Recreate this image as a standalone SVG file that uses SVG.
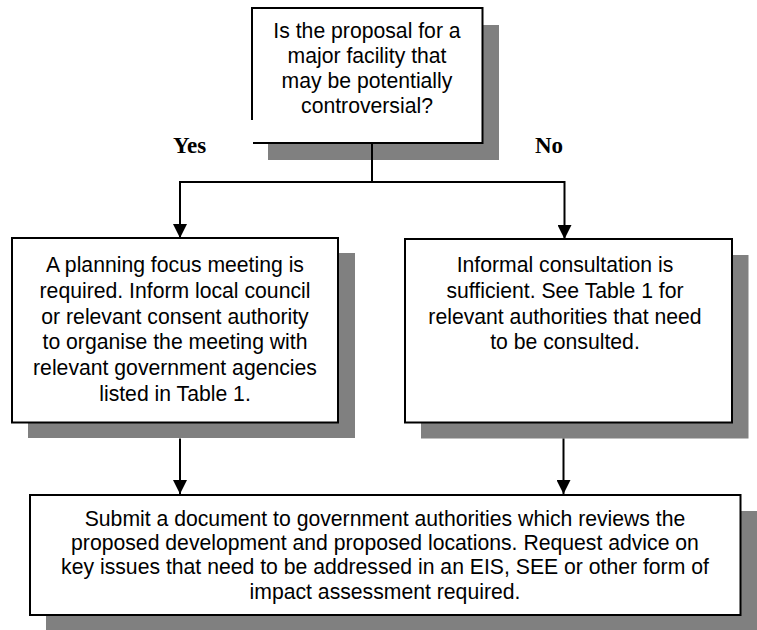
<svg xmlns="http://www.w3.org/2000/svg" width="757" height="630" viewBox="0 0 757 630">
  <style>
    .shadow { fill: #808080; stroke: none; }
    .box { fill: #ffffff; stroke: #000000; stroke-width: 2; }
    .txt { font-family: "Liberation Sans", Arial, sans-serif; font-size: 21.2px; fill: #000000; text-anchor: middle; }
    .lbl { font-family: "Liberation Serif", "Times New Roman", serif; font-size: 23px; font-weight: bold; fill: #000000; }
    .conn { fill: none; stroke: #000000; stroke-width: 2; }
  </style>
  <defs>
    <marker id="arrow" markerUnits="userSpaceOnUse" markerWidth="14" markerHeight="14" refX="14" refY="7" orient="auto">
      <path d="M0,0 L14,7 L0,14 z" fill="#000000"/>
    </marker>
  </defs>
  <rect x="0" y="0" width="757" height="630" fill="#ffffff"/>

  <g id="question">
    <rect class="shadow" x="268" y="25" width="231" height="135"/>
    <rect x="252" y="8" width="230.5" height="135" fill="#ffffff"/>
    <path class="conn" d="M252,120 V8 H482.5 V143 H253"/>
    <text class="txt" x="367" y="37.5">Is the proposal for a</text>
    <text class="txt" x="367" y="62.7">major facility that</text>
    <text class="txt" x="367" y="87.9">may be potentially</text>
    <text class="txt" x="367" y="113.1">controversial?</text>
  </g>

  <text class="lbl" x="173" y="153.3">Yes</text>
  <text class="lbl" x="535" y="153.3">No</text>

  <g id="meeting">
    <rect class="shadow" x="28" y="253" width="327" height="185"/>
    <rect class="box" x="12" y="238" width="326" height="184.5"/>
    <text class="txt" x="175" y="272">A planning focus meeting is</text>
    <text class="txt" x="175" y="297.8">required. Inform local council</text>
    <text class="txt" x="175" y="323.6">or relevant consent authority</text>
    <text class="txt" x="175" y="349.4">to organise the meeting with</text>
    <text class="txt" x="175" y="375.2">relevant government agencies</text>
    <text class="txt" x="175" y="401">listed in Table 1.</text>
  </g>

  <g id="informal">
    <rect class="shadow" x="421" y="255" width="327.5" height="183.5"/>
    <rect class="box" x="405" y="239" width="327" height="183.5"/>
    <text class="txt" x="565" y="272">Informal consultation is</text>
    <text class="txt" x="565" y="297.8">sufficient. See Table 1 for</text>
    <text class="txt" x="565" y="323.6">relevant authorities that need</text>
    <text class="txt" x="565" y="349.4">to be consulted.</text>
  </g>

  <g id="submit">
    <rect class="shadow" x="46" y="511" width="711" height="119"/>
    <rect class="box" x="30" y="495" width="710.5" height="120"/>
    <text class="txt" x="385" y="526">Submit a document to government authorities which reviews the</text>
    <text class="txt" x="385" y="550.2">proposed development and proposed locations. Request advice on</text>
    <text class="txt" x="385" y="574.4">key issues that need to be addressed in an EIS, SEE or other form of</text>
    <text class="txt" x="385" y="598.6">impact assessment required.</text>
  </g>

  <g id="connectors">
    <path class="conn" d="M372,143 V182"/>
    <path class="conn" d="M179,182 H565"/>
    <path class="conn" d="M180,181 V238" marker-end="url(#arrow)"/>
    <path class="conn" d="M564.5,181 V239" marker-end="url(#arrow)"/>
    <path class="conn" d="M180,438.5 V494" marker-end="url(#arrow)"/>
    <path class="conn" d="M563.5,438.5 V494" marker-end="url(#arrow)"/>
  </g>
</svg>
